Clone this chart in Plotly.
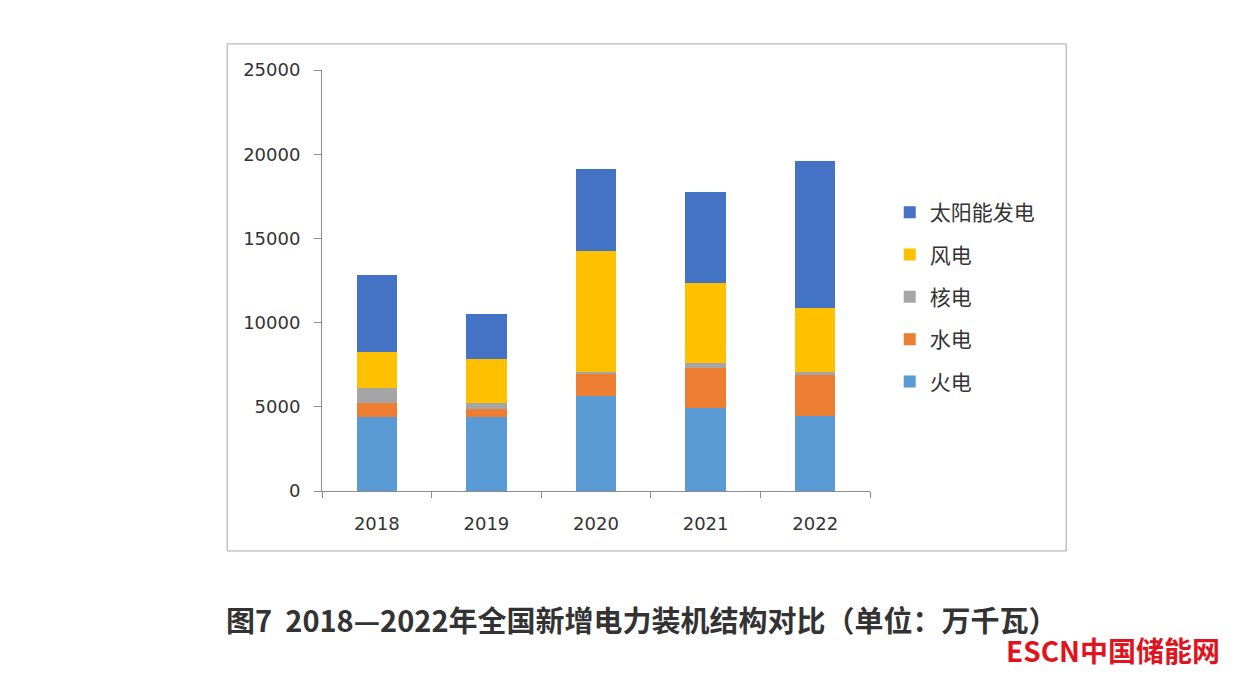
import plotly.graph_objects as go

years = ["2018", "2019", "2020", "2021", "2022"]
thermal = [4380, 4420, 5640, 4950, 4470]
hydro = [850, 420, 1320, 2350, 2390]
nuclear = [910, 410, 120, 320, 230]
wind = [2100, 2580, 7170, 4760, 3760]
solar = [4560, 2700, 4850, 5400, 8740]

series = [
    ("火电", thermal, "#5B9BD5"),
    ("水电", hydro, "#ED7D31"),
    ("核电", nuclear, "#A5A5A5"),
    ("风电", wind, "#FFC000"),
    ("太阳能发电", solar, "#4472C4"),
]

font_cn = "Noto Sans CJK SC, Noto Sans, sans-serif"
font_num = "DejaVu Sans, Noto Sans CJK SC, sans-serif"

fig = go.Figure()
for i, (name, vals, color) in enumerate(series):
    fig.add_trace(go.Bar(
        x=years, y=vals, name=name, legendgroup=name,
        legendrank=1000 - i,  # solar first in legend, thermal last
        marker=dict(color=color, line=dict(width=0)),
    ))

# page body has an 8px margin, so the plot box is pulled up/left by 8
fig.update_layout(
    width=1246, height=679,
    barmode="stack", bargap=0.63,
    paper_bgcolor="white", plot_bgcolor="white",
    margin=dict(l=314, r=384, t=62, b=196),
    font=dict(family=font_num, color="#333333", size=14),
    legend=dict(
        x=1.036, y=0.71, xanchor="left", yanchor="top",
        traceorder="grouped", tracegroupgap=12,
        font=dict(size=21, color="#333333", family=font_cn),
        itemwidth=30,
    ),
    xaxis=dict(
        type="category", showline=True, linecolor="#8c8c8c", linewidth=1,
        ticks="outside", tickson="boundaries", ticklen=6, tickcolor="#8c8c8c",
        tickfont=dict(size=18, color="#333333"), showgrid=False,
        ticklabelstandoff=16, automargin=False,
    ),
    yaxis=dict(
        range=[0, 25000], dtick=5000, showline=True, linecolor="#8c8c8c",
        linewidth=1, ticks="outside", ticklen=7, tickcolor="#8c8c8c",
        showgrid=False, zeroline=False, tickformat="d",
        tickfont=dict(size=18, color="#333333"), ticklabelstandoff=10,
        automargin=False,
    ),
    shapes=[dict(
        type="rect", xref="paper", yref="paper",
        x0=-0.173, x1=1.358, y0=-0.1425, y1=1.062,
        line=dict(color="#a6a6a6", width=1), fillcolor="rgba(0,0,0,0)",
    )],
    annotations=[
        dict(
            text="<b>图7&nbsp;&nbsp;2018—2022年全国新增电力装机结构对比（单位：万千瓦）</b>",
            xref="paper", yref="paper", x=0.584, y=-0.303,
            xanchor="center", yanchor="middle", showarrow=False,
            font=dict(size=29, color="#333333", family=font_cn),
        ),
        dict(
            text="<b>ESCN中国储能网</b>",
            xref="paper", yref="paper", x=1.642, y=-0.378,
            xanchor="right", yanchor="middle", showarrow=False,
            font=dict(size=28, color="#e0141e", family=font_cn),
        ),
    ],
)

fig.write_html("out.html")
